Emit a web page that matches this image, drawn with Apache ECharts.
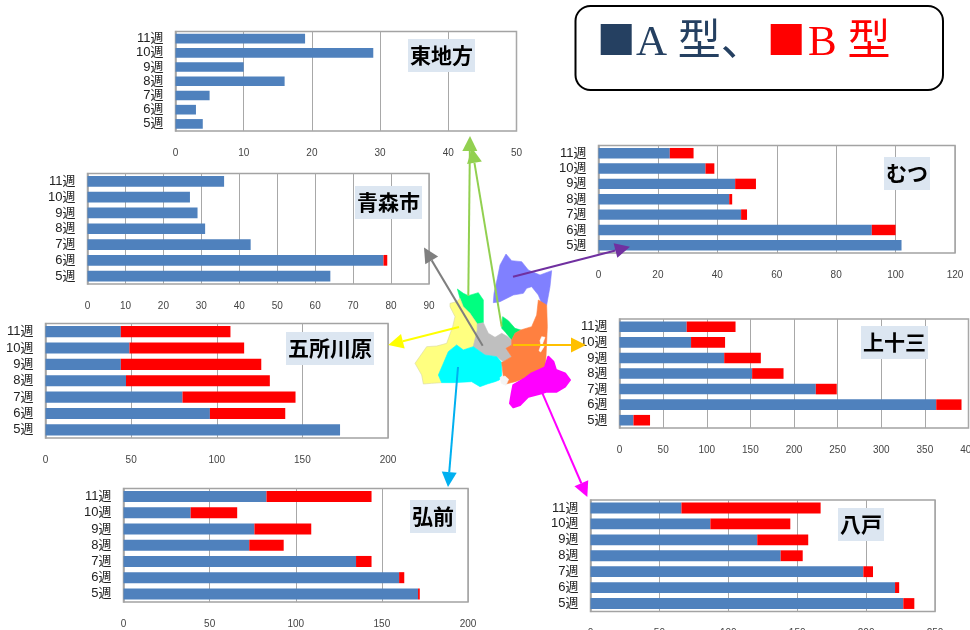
<!DOCTYPE html>
<html><head><meta charset="utf-8">
<style>html,body{margin:0;padding:0;background:#fff;overflow:hidden}#c{width:970px;height:630px}</style>
<script src="https://cdn.jsdelivr.net/npm/echarts@6/dist/echarts.min.js"></script>
</head><body><div id="c"></div>
<script>
// Data: categories listed bottom-to-top (5週 at the bottom of each panel)
const weeks = ['5週','6週','7週','8週','9週','10週','11週'];
const higashiA  = [4,3,5,16,10,29,19];
const higashiB  = [0,0,0,0,0,0,0];
const mutsuA    = [102,92,48,44,46,36,24];
const mutsuB    = [0,8,2,1,7,3,8];
const aomoriA   = [64,78,43,31,29,27,36];
const aomoriB   = [0,1,0,0,0,0,0];
const kamiA     = [16,363,225,152,120,82,77];
const kamiB     = [19,29,24,36,42,39,56];
const goshoA    = [172,96,80,47,44,49,44];
const goshoB    = [0,44,66,84,82,67,64];
const hirosakiA = [171,160,135,73,76,39,83];
const hirosakiB = [1,3,9,20,33,27,61];
const hachiA    = [227,221,198,138,121,87,66];
const hachiB    = [8,3,7,16,37,58,101];

const nameA = 'A 型、', nameB = 'B 型';
const colorA = '#4F81BD', colorB = '#FF0000', frame = '#A3A3A3', legendA = '#254061';

const panels = [
  {t:'東地方',  a:higashiA,  b:higashiB,  max:50,  step:10,  x0:175.5,x1:516.5,y0:31.5, y1:131,  bx:408,by:39},
  {t:'むつ',    a:mutsuA,    b:mutsuB,    max:120, step:20,  x0:598.5,x1:955,  y0:145.5,y1:253,  bx:884,by:157},
  {t:'青森市',  a:aomoriA,   b:aomoriB,   max:90,  step:10,  x0:87.5, x1:429,  y0:173.5,y1:284,  bx:355,by:186},
  {t:'上十三',  a:kamiA,     b:kamiB,     max:400, step:50,  x0:619.5,x1:968.5,y0:319,  y1:428,  bx:861,by:326},
  {t:'五所川原',a:goshoA,    b:goshoB,    max:200, step:50,  x0:45.5, x1:388,  y0:323.5,y1:438,  bx:286,by:332},
  {t:'弘前',    a:hirosakiA, b:hirosakiB, max:200, step:50,  x0:123.5,x1:468,  y0:488.5,y1:602,  bx:410,by:500},
  {t:'八戸',    a:hachiA,    b:hachiB,    max:250, step:50,  x0:590.5,x1:935,  y0:500,  y1:611.5,bx:838,by:508}
];

const grid=[],xAxis=[],yAxis=[],series=[],title=[];
panels.forEach((p,i)=>{
  grid.push({left:p.x0,top:p.y0,width:p.x1-p.x0,height:p.y1-p.y0,outerBoundsMode:'none',show:true,borderColor:frame,borderWidth:1.5,backgroundColor:'#fff'});
  xAxis.push({type:'value',gridIndex:i,min:0,max:p.max,interval:p.step,
    axisLine:{show:false},axisTick:{show:false},
    splitLine:{show:true,lineStyle:{color:'#A8A8A8',width:1}},
    axisLabel:{margin:17,fontSize:10,color:'#444',fontFamily:'"Liberation Sans",sans-serif',showMinLabel:true,showMaxLabel:true,hideOverlap:false}});
  yAxis.push({type:'category',gridIndex:i,data:weeks,
    axisLine:{show:true,lineStyle:{color:frame,width:1.5}},axisTick:{show:false},
    axisLabel:{margin:12,fontSize:13,color:'#222',interval:0,fontFamily:'"Liberation Sans","Noto Sans CJK JP",sans-serif'}});
  series.push({name:nameA,type:'bar',stack:'s'+i,xAxisIndex:i,yAxisIndex:i,data:p.a,barWidth:'68%',itemStyle:{color:colorA},silent:true,z:3});
  series.push({name:nameB,type:'bar',stack:'s'+i,xAxisIndex:i,yAxisIndex:i,data:p.b,barWidth:'68%',itemStyle:{color:colorB},silent:true,z:3});
  title.push({text:p.t,left:p.bx,top:p.by,padding:[6,2],backgroundColor:'#DCE6F1',
    textStyle:{fontSize:21,lineHeight:21,fontWeight:'bold',color:'#000',fontFamily:'"Noto Sans CJK JP",sans-serif'}});
});

// Decorative region map of the prefecture, outlines in zoom-space units
const mapLeft=400, mapTop=130, mapScale=1/3;
const regions = [
  ['#8080FF',[[318,372],[335,392],[365,395],[385,420],[420,435],[455,422],[450,470],[440,525],[425,520],[415,495],[395,470],[380,475],[370,490],[340,495],[300,515],[280,518],[282,490],[292,445],[300,405]]],
  ['#00FF80',[[172,477],[190,490],[205,497],[235,488],[250,510],[250,578],[232,582],[210,550],[190,530],[180,505]]],
  ['#00F070',[[308,560],[325,572],[345,595],[362,600],[345,610],[335,630],[315,605],[305,595]]],
  ['#FFFF80',[[150,520],[170,515],[180,505],[190,530],[210,550],[232,582],[232,600],[220,650],[190,660],[170,645],[145,665],[120,735],[125,758],[95,760],[70,762],[65,735],[45,700],[80,650],[110,648],[140,640],[158,590],[165,560],[150,530]]],
  ['#BFBFBF',[[232,582],[250,578],[265,610],[285,622],[305,610],[320,618],[335,630],[335,645],[318,655],[335,680],[310,695],[290,680],[255,675],[220,650],[232,600]]],
  ['#00FFFF',[[170,645],[190,660],[220,650],[255,675],[290,680],[305,697],[305,735],[298,750],[285,755],[262,762],[240,770],[215,755],[160,758],[125,758],[115,735],[145,665]]],
  ['#FF8040',[[415,510],[440,525],[442,590],[438,680],[435,712],[395,730],[375,745],[345,755],[318,762],[310,740],[305,697],[310,695],[335,680],[318,655],[335,645],[335,630],[345,610],[362,600],[395,590],[410,555]]],
  ['#FFFFFF',[[425,620],[435,622],[428,640],[432,650],[422,666],[417,662],[423,645],[420,632]]],
  ['#FF00FF',[[445,680],[460,695],[468,720],[495,730],[510,750],[495,770],[470,785],[440,785],[425,790],[385,800],[360,825],[340,832],[330,820],[335,790],[340,765],[375,745],[395,730],[435,712]]],
  ['#F4F4F4',[[300,742],[315,738],[326,748],[318,766],[304,760]]]
];
const arrows = [
  ['#92D050',[468.3,295.7],[470,136]],
  ['#92D050',[501.7,326.7],[472,148]],
  ['#7F7F7F',[482.7,345.7],[424,247.5]],
  ['#7030A0',[513,276.7],[630,246.7]],
  ['#FFFF00',[459,327],[388.3,345]],
  ['#FFC000',[513,345],[586,345]],
  ['#00B0F0',[458,367],[448,487]],
  ['#FF00FF',[541.7,391.7],[587.3,497]]
];

const graphic=[];
const legendFont='43px "Liberation Serif","Noto Sans CJK JP",serif';
graphic.push({type:'rect',left:574.5,top:5,shape:{width:367.5,height:84,r:15},style:{fill:'#fff',stroke:'#000',lineWidth:2},z:1});
graphic.push({type:'rect',shape:{x:600.7,y:24,width:31,height:31},style:{fill:legendA},z:2});
graphic.push({type:'rect',shape:{x:770.7,y:24,width:31,height:31},style:{fill:colorB},z:2});
graphic.push({type:'text',x:636,y:44,style:{text:nameA,fill:legendA,font:legendFont,verticalAlign:'middle'},z:2});
graphic.push({type:'text',x:808,y:44,style:{text:nameB,fill:colorB,font:legendFont,verticalAlign:'middle'},z:2});
regions.forEach(r=>graphic.push({type:'polygon',z:20,
  shape:{points:r[1].map(q=>[mapLeft+q[0]*mapScale,mapTop+q[1]*mapScale])},
  style:{fill:r[0],stroke:r[0]==='#FFFF80'?'#D8D8A0':r[0],lineWidth:r[0]==='#FF00FF'?2:0.6,lineJoin:'round'}}));
arrows.forEach(a=>{
  const [c,s,e]=a, dx=e[0]-s[0], dy=e[1]-s[1], L=Math.hypot(dx,dy), ux=dx/L, uy=dy/L, hl=15, hw=7.5;
  const bx=e[0]-ux*hl, by=e[1]-uy*hl;
  graphic.push({type:'line',z:30,shape:{x1:s[0],y1:s[1],x2:bx,y2:by},style:{stroke:c,lineWidth:2}});
  graphic.push({type:'polygon',z:30,shape:{points:[e,[bx-uy*hw,by+ux*hw],[bx+uy*hw,by-ux*hw]]},style:{fill:c}});
});

const chart=echarts.init(document.getElementById('c'),null,{renderer:'canvas',width:970,height:630});
chart.setOption({
  animation:false,backgroundColor:'#fff',
  title,grid,xAxis,yAxis,series,graphic
});
</script></body></html>
